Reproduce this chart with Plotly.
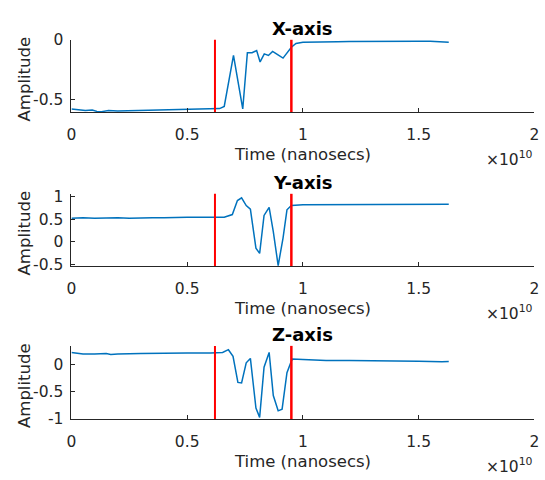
import plotly.graph_objects as go

# ---------------- data (time in units of 1e10 ns) ----------------
X_TIME = [0, 0.03, 0.06, 0.09, 0.11, 0.13, 0.16, 0.2, 0.25, 0.3, 0.35, 0.4, 0.45, 0.5, 0.55,
          0.6, 0.64, 0.66, 0.70, 0.74, 0.76, 0.78, 0.80, 0.815, 0.833, 0.851, 0.869, 0.889,
          0.914, 0.95, 0.97, 1.0, 1.05, 1.1, 1.15, 1.2, 1.25, 1.3, 1.35, 1.4, 1.45, 1.5,
          1.55, 1.6, 1.63]
X_AMP = [-0.575, -0.583, -0.587, -0.583, -0.595, -0.597, -0.588, -0.592, -0.59, -0.586,
         -0.584, -0.578, -0.579, -0.577, -0.576, -0.572, -0.572, -0.554, -0.13, -0.575,
         -0.108, -0.108, -0.089, -0.184, -0.117, -0.13, -0.097, -0.122, -0.152, -0.062,
         -0.03, -0.02, -0.017, -0.015, -0.016, -0.015, -0.014, -0.015, -0.014, -0.012,
         -0.008, -0.012, -0.013, -0.015, -0.02]

Y_TIME = [0, 0.05, 0.1, 0.15, 0.2, 0.25, 0.3, 0.35, 0.4, 0.45, 0.5, 0.55, 0.6, 0.66, 0.695,
          0.717, 0.735, 0.755, 0.773, 0.797, 0.813, 0.832, 0.854, 0.872, 0.893, 0.914, 0.931,
          0.95, 1.0, 1.1, 1.2, 1.3, 1.4, 1.5, 1.6, 1.63]
Y_AMP = [0.52, 0.53, 0.52, 0.53, 0.53, 0.52, 0.53, 0.53, 0.53, 0.54, 0.54, 0.54, 0.54, 0.54,
         0.60, 0.91, 0.97, 0.80, 0.72, -0.145, -0.26, 0.58, 0.76, 0.22, -0.53, 0.08, 0.705,
         0.80, 0.815, 0.815, 0.82, 0.82, 0.82, 0.815, 0.825, 0.83]

Z_TIME = [0, 0.05, 0.1, 0.15, 0.17, 0.2, 0.3, 0.4, 0.5, 0.6, 0.618, 0.653, 0.678, 0.698,
          0.719, 0.735, 0.755, 0.773, 0.797, 0.813, 0.832, 0.854, 0.872, 0.893, 0.91, 0.931,
          0.95, 0.955, 1.0, 1.1, 1.2, 1.3, 1.4, 1.5, 1.6, 1.63]
Z_AMP = [0.22, 0.19, 0.19, 0.20, 0.18, 0.19, 0.20, 0.21, 0.21, 0.21, 0.21, 0.22, 0.27, 0.15,
         -0.33, -0.34, 0.03, 0.11, -0.80, -0.97, -0.05, 0.22, -0.57, -0.85, -0.82, -0.15,
         0.06, 0.10, 0.09, 0.07, 0.07, 0.07, 0.07, 0.06, 0.05, 0.055]

EVENT_BOUNDS = [0.62, 0.95]
PANEL_TITLES = ["X-axis", "Y-axis", "Z-axis"]
X_TICKS = [0, 0.5, 1, 1.5, 2]
X_TICK_LABELS = ["0", "0.5", "1", "1.5", "2"]
Y_RANGES = [[-0.6, 0.0], [-0.54, 1.06], [-1.0, 0.34]]
Y_TICKS = [[-0.5, 0], [-0.5, 0, 0.5, 1], [-1, -0.5, 0]]
Y_TICK_LABELS = [["-0.5", "0"], ["-0.5", "0", "0.5", "1"], ["-1", "-0.5", "0"]]

# ---------------- layout helpers (pixel -> paper) ----------------
W, H = 545, 480
def px(x):
    return x / W
def py(y):
    return 1 - y / H

AX_LEFT, AX_RIGHT = 67.7, 539.3
PANELS = [(32, 107), (192, 267), (350, 426)]  # top, bottom in pixels

TXT = "#262626"
FONT = "DejaVu Sans"
BLUE = "#0072BD"

fig = go.Figure()
series = [(X_TIME, X_AMP), (Y_TIME, Y_AMP), (Z_TIME, Z_AMP)]
annotations = []
shapes = []

for i, ((t, a), (top, bot)) in enumerate(zip(series, PANELS)):
    sfx = "" if i == 0 else str(i + 1)
    fig.add_trace(go.Scatter(x=t, y=a, mode="lines", line=dict(color=BLUE, width=1.5),
                             xaxis="x" + sfx, yaxis="y" + sfx, showlegend=False,
                             hoverinfo="skip"))
    common = dict(showline=True, linecolor=TXT, linewidth=1, ticks="inside", ticklen=4,
                  tickcolor=TXT, showgrid=False, zeroline=False, mirror=False,
                  tickfont=dict(family=FONT, size=15.5, color=TXT))
    fig.update_layout(**{
        "xaxis" + sfx: dict(domain=[px(AX_LEFT), px(AX_RIGHT)], range=[0, 2],
                            tickvals=X_TICKS, ticktext=X_TICK_LABELS,
                            anchor="y" + sfx, ticklabelstandoff=8, **common),
        "yaxis" + sfx: dict(domain=[py(bot), py(top)], range=Y_RANGES[i],
                            tickvals=Y_TICKS[i], ticktext=Y_TICK_LABELS[i],
                            anchor="x" + sfx, ticklabelstandoff=4, **common),
    })
    for j, xb in enumerate(EVENT_BOUNDS):
        shapes.append(dict(type="line", xref="x" + sfx, yref="y" + sfx + " domain",
                           x0=xb, x1=xb, y0=0, y1=1,
                           line=dict(color="#FF0000", width=2 if j == 0 else 2.5)))
    cx = (AX_LEFT + AX_RIGHT) / 2
    annotations += [
        dict(text="<b>" + PANEL_TITLES[i] + "</b>", x=px(cx), y=py(top - 12), xref="paper",
             yref="paper", showarrow=False, xanchor="center", yanchor="middle",
             font=dict(family=FONT, size=18, color="black")),
        dict(text="Time (nanosecs)", x=px(cx), y=py(bot + 44), xref="paper", yref="paper",
             showarrow=False, xanchor="center", yanchor="middle",
             font=dict(family=FONT, size=16.5, color=TXT)),
        dict(text="×10<sup>10</sup>", x=px(540), y=py(bot + 48), xref="paper",
             yref="paper", showarrow=False, xanchor="right", yanchor="middle",
             font=dict(family=FONT, size=15.5, color=TXT)),
        dict(text="Amplitude", x=px(20), y=py((top + bot) / 2 + 3), xref="paper",
             yref="paper", showarrow=False, xanchor="center", yanchor="middle",
             textangle=-90, font=dict(family=FONT, size=16.5, color=TXT)),
    ]

fig.update_layout(width=W, height=H, margin=dict(l=0, r=0, t=0, b=0),
                  paper_bgcolor="white", plot_bgcolor="white",
                  annotations=annotations, shapes=shapes, showlegend=False)

fig.write_html("out.html")
